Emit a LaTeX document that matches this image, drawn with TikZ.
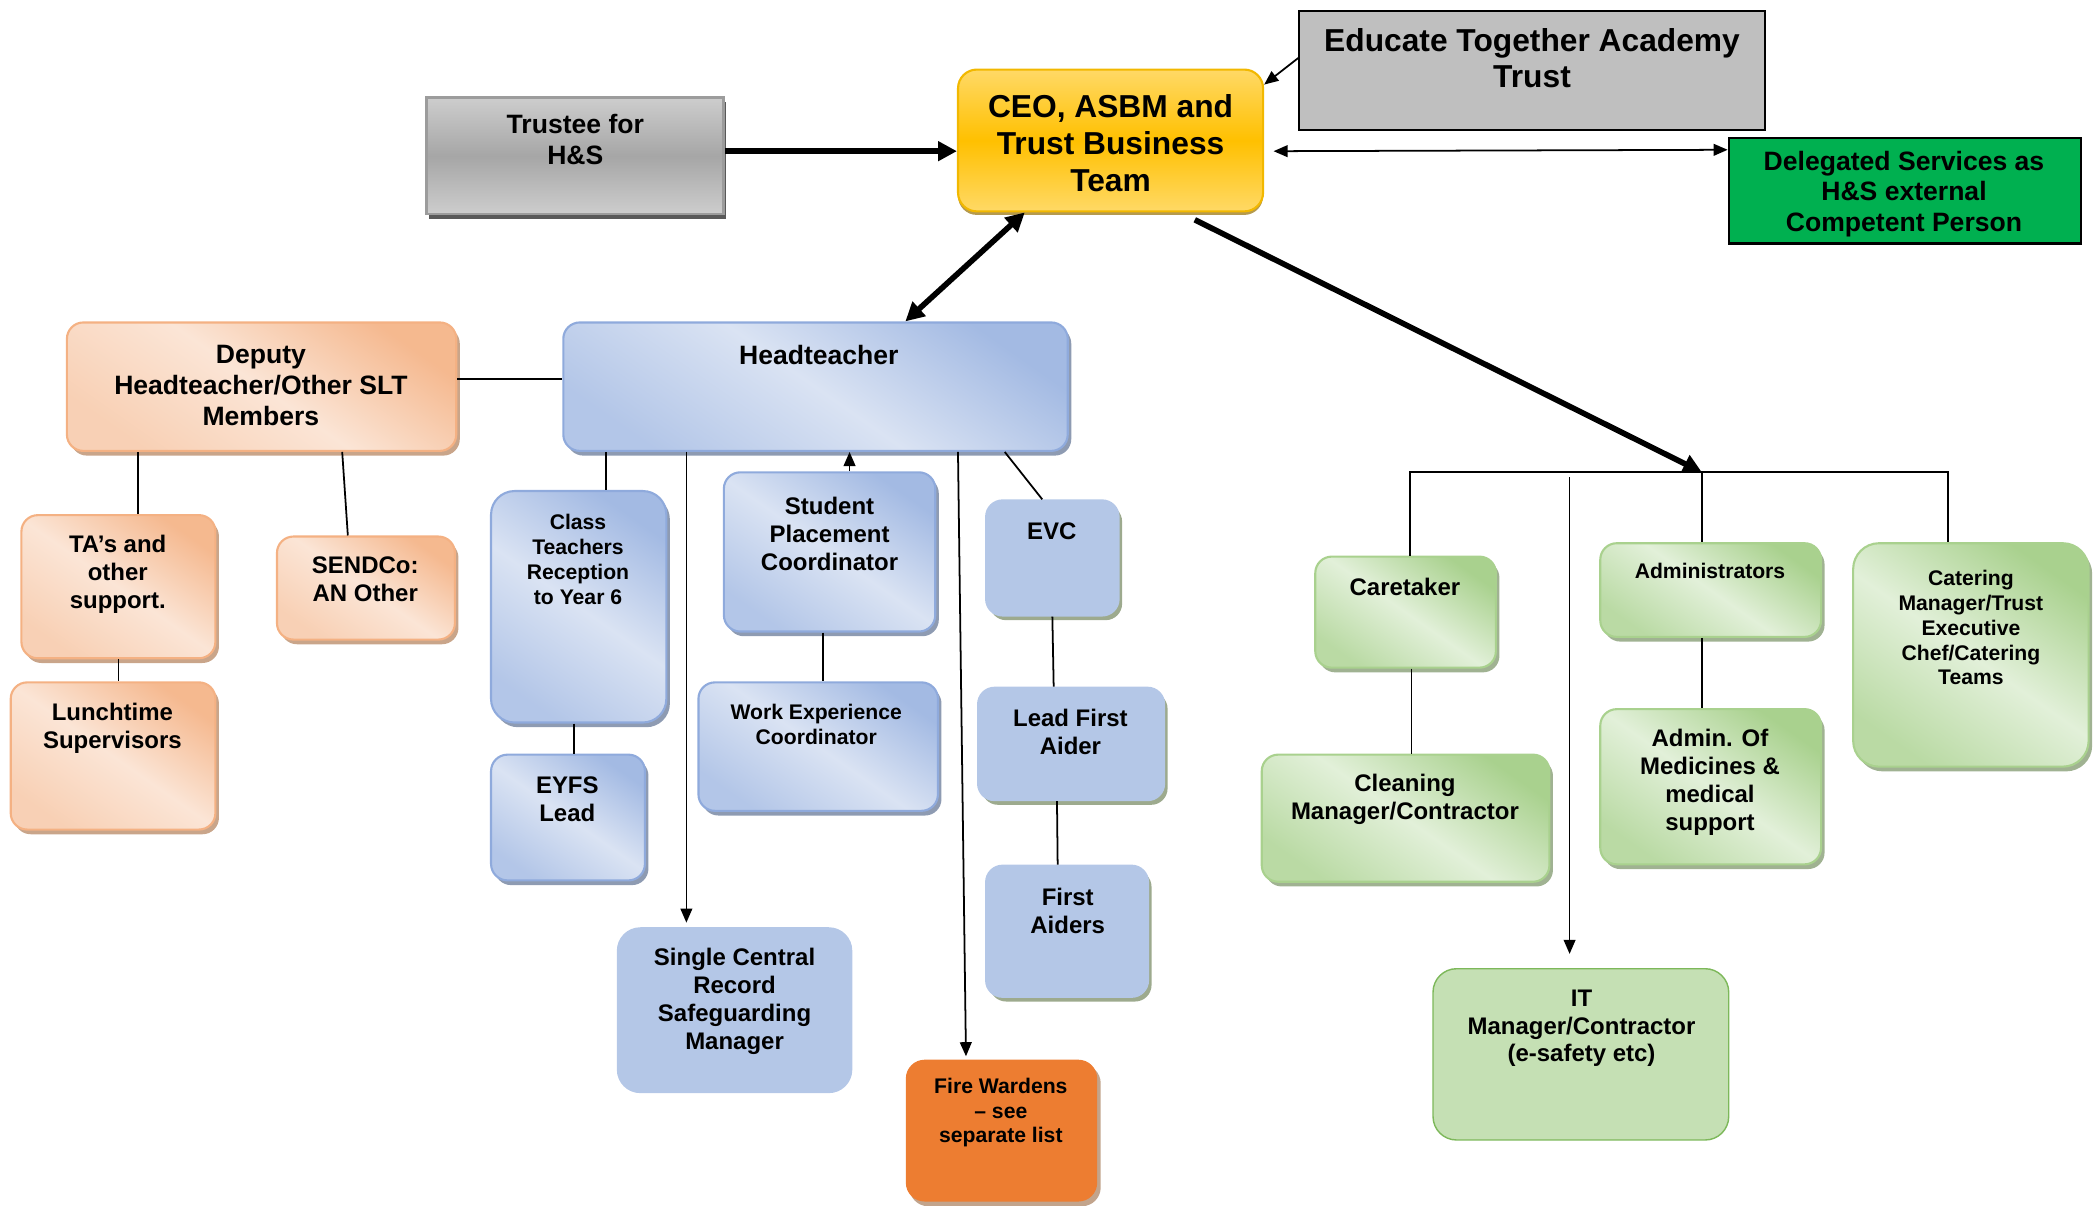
\documentclass[tikz,border=0pt]{standalone}
\usepackage{fontspec}
\setmainfont{Liberation Sans}
\usetikzlibrary{arrows.meta}
\usetikzlibrary{shadows}
\usetikzlibrary{fit}

\definecolor{orlight}{HTML}{FBE5D6}
\definecolor{ordark}{HTML}{F4B183}
\definecolor{orshadow}{HTML}{C9A58A}
\definecolor{bllight}{HTML}{DAE3F3}
\definecolor{bldark}{HTML}{A3BAE3}
\definecolor{blline}{HTML}{8FAADC}
\definecolor{blshadow}{HTML}{8E9BB2}
\definecolor{blflat}{HTML}{B4C7E7}
\definecolor{olshadow}{HTML}{9DAA8E}
\definecolor{grlight}{HTML}{E2F0D9}
\definecolor{grdark}{HTML}{A9D18E}
\definecolor{grshadow}{HTML}{A0B292}
\definecolor{grflat}{HTML}{C5E0B4}
\definecolor{grline}{HTML}{7DB85A}
\definecolor{firefill}{HTML}{ED7D31}
\definecolor{fireshadow}{HTML}{C2A48C}
\definecolor{goldlight}{HTML}{FFD966}
\definecolor{gold}{HTML}{FFC000}
\definecolor{goldline}{HTML}{F2B800}
\definecolor{goldshadow}{HTML}{B59A4E}
\definecolor{greylight}{HTML}{CDCDCD}
\definecolor{greymid}{HTML}{A6A6A6}
\definecolor{greyline}{HTML}{9C9C9C}
\definecolor{greyshadow}{HTML}{595959}
\definecolor{trustgrey}{HTML}{BFBFBF}
\definecolor{delgreen}{HTML}{00B050}

\tikzset{
  base/.style={rounded corners=7pt, inner sep=0pt, line width=0.9pt},
  orangebox/.style={base, draw=ordark, top color=ordark!85!orlight, bottom color=ordark!40!orlight,
    middle color=orlight, shading angle=-35,
    drop shadow={shadow xshift=1.5pt, shadow yshift=-2pt, fill=orshadow, opacity=1}},
  bluebox/.style={base, draw=blline, top color=bldark, bottom color=bldark!70!bllight,
    middle color=bllight, shading angle=-35,
    drop shadow={shadow xshift=1.5pt, shadow yshift=-2pt, fill=blshadow, opacity=1}},
  greenbox/.style={base, draw=grdark, top color=grdark, bottom color=grdark!70!grlight,
    middle color=grlight, shading angle=-35,
    drop shadow={shadow xshift=1.5pt, shadow yshift=-2pt, fill=grshadow, opacity=1}},
  flatblue/.style={base, draw=blflat, fill=blflat,
    drop shadow={shadow xshift=1.5pt, shadow yshift=-2pt, fill=olshadow, opacity=1}},
  scrbox/.style={base, rounded corners=10pt, fill=blflat},
  firebox/.style={base, rounded corners=8pt, fill=firefill,
    drop shadow={shadow xshift=1.5pt, shadow yshift=-2pt, fill=fireshadow, opacity=1}},
  itbox/.style={base, rounded corners=10pt, fill=grflat, draw=grline, line width=0.6pt},
  goldbox/.style={base, rounded corners=8pt, draw=goldline, top color=goldlight,
    bottom color=goldlight, middle color=gold,
    drop shadow={shadow xshift=0pt, shadow yshift=-1.5pt, fill=goldshadow, opacity=1}},
  greybox/.style={inner sep=0pt, draw=greyline, line width=1.2pt, top color=greylight,
    bottom color=greylight, middle color=greymid,
    drop shadow={shadow xshift=1pt, shadow yshift=-2pt, fill=greyshadow, opacity=1}},
  etabox/.style={inner sep=0pt, draw=black, line width=0.8pt, fill=trustgrey},
  delbox/.style={inner sep=0pt, draw=black, line width=0.9pt, fill=delgreen},
  txtL/.style={font=\fontsize{13.5}{15.6}\selectfont\bfseries, align=center, inner sep=0pt},
  txtM/.style={font=\fontsize{11.3}{13.1}\selectfont\bfseries, align=center, inner sep=0pt},
  txtS/.style={font=\fontsize{10.2}{11.9}\selectfont\bfseries, align=center, inner sep=0pt},
  txtXS/.style={font=\fontsize{9}{10.6}\selectfont\bfseries, align=center, inner sep=0pt},
  link/.style={line width=0.75pt},
  linkarrow/.style={link, -{Triangle[length=6pt,width=5pt]}},
  linkboth/.style={link, {Triangle[length=6pt,width=5pt]}-{Triangle[length=6pt,width=5pt]}},
  bigarrow/.style={line width=2.4pt, -{Triangle[length=8pt,width=8pt]}},
  bigboth/.style={line width=2.4pt, {Triangle[length=8pt,width=8pt]}-{Triangle[length=8pt,width=8pt]}}
}

\begin{document}
\begin{tikzpicture}[x=0.02cm, y=-0.02cm]
\useasboundingbox (0,0) rectangle (1568,901);

\node[greybox, fit={(319,73) (541,160)}] (trustee) {};
\node[goldbox, fit={(716,52) (944,158)}] (ceo) {};
\node[etabox, fit={(971,8) (1319,97)}] (eta) {};
\node[delbox, fit={(1292,103) (1555,182)}] (deleg) {};
\node[orangebox, fit={(50,241) (341,337)}] (deputy) {};
\node[bluebox, fit={(421,241) (798,337)}] (head) {};
\node[orangebox, fit={(16,385) (161,492)}] (tas) {};
\node[orangebox, fit={(207,401) (340,478)}] (sendco) {};
\node[orangebox, fit={(8,510) (161,620)}] (lunch) {};
\node[bluebox, rounded corners=10pt, fit={(367,367) (498,540)}] (class) {};
\node[bluebox, fit={(367,564) (482,658)}] (eyfs) {};
\node[bluebox, fit={(541,353) (699,472)}] (student) {};
\node[bluebox, fit={(522,510) (701,606)}] (workexp) {};
\node[flatblue, fit={(737,374) (836,460)}] (evc) {};
\node[flatblue, fit={(731,514) (870,598)}] (lfa) {};
\node[flatblue, fit={(737,647) (858,745)}] (aiders) {};
\node[scrbox, fit={(461,693) (637,817)}] (scr) {};
\node[firebox, fit={(677,792) (820,898)}] (fire) {};
\node[greenbox, fit={(983,416) (1118,499)}] (caretaker) {};
\node[greenbox, fit={(943,564) (1158,659)}] (cleaning) {};
\node[greenbox, fit={(1196,406) (1361,476)}] (admins) {};
\node[greenbox, fit={(1196,530) (1361,646)}] (medicines) {};
\node[greenbox, rounded corners=11pt, fit={(1385,406) (1561,573)}] (catering) {};
\node[itbox, fit={(1071,724) (1292,852)}] (it) {};

\node[txtM] (trustee-t) at (430,104.5) {Trustee for\\H\&S};
\node[txtL] (ceo-t) at (830,107) {CEO, ASBM and\\Trust Business\\Team};
\node[txtL] (eta-t) at (1145,43.5) {Educate Together Academy\\Trust};
\node[txtM] (deleg-t) at (1423,145) {Delegated Services as\\H\&S external\\Competent Person};
\node[txtM] (deputy-t) at (195,288) {Deputy\\Headteacher/Other SLT\\Members};
\node[txtM] (head-t) at (612,265) {Headteacher};
\node[txtS] (tas-t) at (88,429) {TA’s and\\other\\support.};
\node[txtS] (sendco-t) at (273,433) {SENDCo:\\AN Other};
\node[txtS] (lunch-t) at (84,544) {Lunchtime\\Supervisors};
\node[txtXS] (class-t) at (432,418) {Class\\Teachers\\Reception\\to Year 6};
\node[txtS] (eyfs-t) at (424,597) {EYFS\\Lead};
\node[txtS] (student-t) at (620,399) {Student\\Placement\\Coordinator};
\node[txtXS] (workexp-t) at (610,541.5) {Work Experience\\Coordinator};
\node[txtS] (evc-t) at (786,397) {EVC};
\node[txtS] (lfa-t) at (800,547) {Lead First\\Aider};
\node[txtS] (aiders-t) at (798,681) {First\\Aiders};
\node[txtS] (scr-t) at (549,748.5) {Single Central\\Record\\Safeguarding\\Manager};
\node[txtXS] (fire-t) at (748,831.5) {Fire Wardens\\– see\\separate list};
\node[txtS] (caretaker-t) at (1050,439) {Caretaker};
\node[txtS] (cleaning-t) at (1050,597.5) {Cleaning\\Manager/Contractor};
\node[txtXS] (admins-t) at (1278,427) {Administrators};
\node[txtS] (medicines-t) at (1278,584.5) {Admin. Of\\Medicines \&\\medical\\support};
\node[txtXS] (catering-t) at (1473,469) {Catering\\Manager/Trust\\Executive\\Chef/Catering\\Teams};
\node[txtS] (it-t) at (1182,768.5) {IT\\Manager/Contractor\\(e-safety etc)};

\coordinate (junc) at (1272,353);

\draw[bigarrow] ([yshift=2pt]trustee.east) -- ([yshift=2pt]trustee.east -| ceo.west);
\draw[linkarrow] (eta.177) -- (ceo.20);
\draw[linkboth, shorten <=4pt] (ceo.-4) -- (deleg.167);
\draw[bigboth] (ceo.220) -- (head.36);
\draw[bigarrow, shorten <=7pt] (ceo.-46) -- (junc);

\draw[link] ([xshift=2pt]caretaker.north) -- ([xshift=2pt]caretaker.north |- junc)
  -- ([xshift=-9.7pt]catering.north |- junc) -- ([xshift=-9.7pt]catering.north);
\draw[link] (junc) -- (junc |- admins.north);
\draw[linkarrow, shorten <=2pt, shorten >=6pt] ([xshift=-4.8pt]it.north |- junc) -- ([xshift=-4.8pt]it.north);
\draw[link] ([xshift=2.5pt]caretaker.south) -- ([xshift=2.5pt]cleaning.north);
\draw[link] ([xshift=-3.7pt]admins.south) -- ([xshift=-3.7pt]medicines.north);

\draw[link] ([yshift=3.4pt]deputy.east) -- ([yshift=3.4pt]head.west);
\draw[link] ([xshift=8.2pt]tas.north) -- ([xshift=8.2pt]tas.north |- deputy.south);
\draw[link] (deputy.-39) -- (sendco.109);
\draw[link] (tas.south) -- (tas.south |- lunch.north);
\draw[link] (class.77) -- (class.77 |- head.south);
\draw[link] ([xshift=-2pt]class.south) -- ([xshift=-2pt]class.south |- eyfs.north);
\draw[linkarrow, shorten >=1.5pt] ([xshift=-20.5pt]scr.north |- head.south) -- ([xshift=-20.5pt]scr.north);
\draw[linkarrow] ([xshift=8.5pt]student.north) -- ([xshift=8.5pt]student.north |- head.south);
\draw[link] ([xshift=-2.8pt]student.south) -- ([xshift=-2.8pt]student.south |- workexp.north);
\draw[linkarrow, shorten >=1pt] ([xshift=60.6pt]head.south) -- ([xshift=-15.1pt]fire.north);
\draw[link] ([xshift=80.5pt]head.south) -- ([xshift=-4.3pt]evc.north);
\draw[link] (evc.south) -- ([xshift=-7.4pt]lfa.north);
\draw[link] ([xshift=-6pt]lfa.south) -- ([xshift=-4pt]aiders.north);

\end{tikzpicture}
\end{document}
